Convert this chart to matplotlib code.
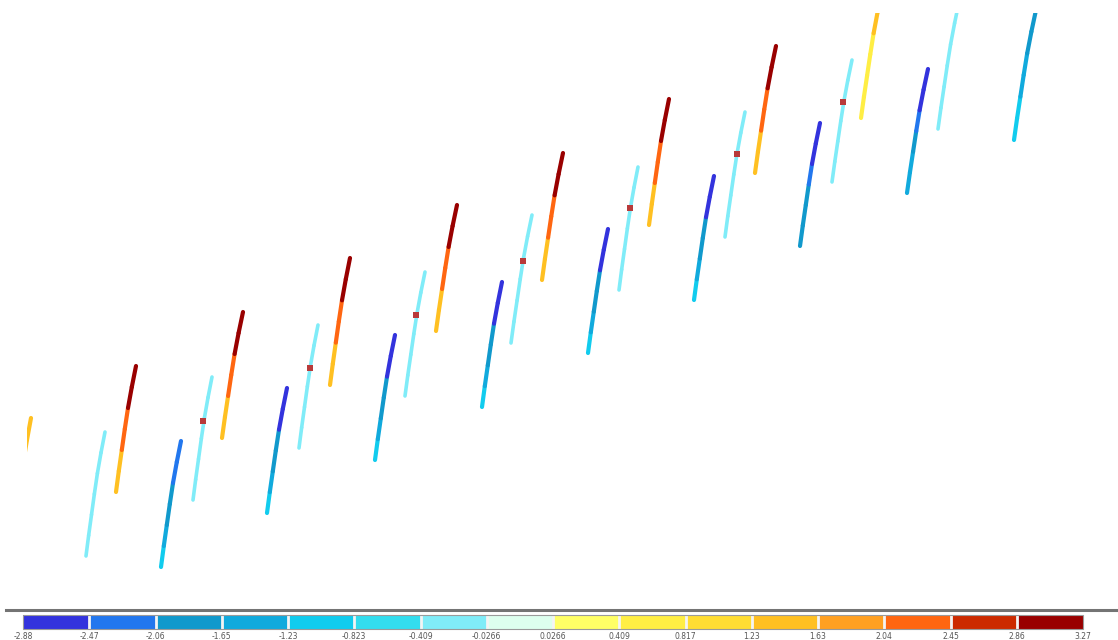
import numpy as np
import matplotlib
matplotlib.use("Agg")
from matplotlib import pyplot as plt
from matplotlib.collections import LineCollection
from matplotlib.colors import ListedColormap, BoundaryNorm
from matplotlib.cm import ScalarMappable
from matplotlib.lines import Line2D


# =========================
# Value scale (class edges + colours)
# =========================

levels = [-2.88, -2.47, -2.06, -1.65, -1.23, -0.823, -0.409, -0.0266,
          0.0266, 0.409, 0.817, 1.23, 1.63, 2.04, 2.45, 2.86, 3.27]
level_labels = ["-2.88", "-2.47", "-2.06", "-1.65", "-1.23", "-0.823", "-0.409",
                "-0.0266", "0.0266", "0.409", "0.817", "1.23", "1.63", "2.04",
                "2.45", "2.86", "3.27"]
level_colors = ["#3333dd", "#2277ee", "#1199cc", "#11aadd", "#11ccee", "#33ddee",
                "#80ecf8", "#ddffee", "#ffff66", "#ffee44", "#ffdd33", "#ffc022",
                "#ffa022", "#ff6611", "#cc2a00", "#990000"]

# bend of a trace: fraction of its height vs fraction of its sideways offset
shape_h = [0, 1 / 6, 2 / 6, 3 / 6, 4 / 6, 5 / 6, 1]
shape_w = [0, 0.14, 0.29, 0.44, 0.60, 0.79, 1]

# =========================
# Traces: bottom (x0, d0), top (x1, d1), value on each of 6 sections
# =========================

# warm traces
hot_x0 = [12, 116, 222, 330, 436, 542, 649, 755, 861]
hot_d0 = [548, 492, 438, 385, 331, 280, 225, 173, 118]
hot_x1 = [31, 136, 243, 350, 457, 563, 669, 776, 882]
hot_d1 = [418, 366, 312, 258, 205, 153, 99, 46, -9]
hot_vals = [
    [1.4, 1.4, 1.4, 1.4, 1.4, 1.4],
    [1.4, 1.4, 2.3, 2.3, 3.0, 3.0],
    [1.4, 1.4, 2.3, 2.3, 3.0, 3.0],
    [1.4, 1.4, 2.3, 2.3, 3.0, 3.0],
    [1.4, 1.4, 2.3, 2.3, 3.0, 3.0],
    [1.4, 1.4, 2.3, 2.3, 3.0, 3.0],
    [1.4, 1.4, 2.3, 2.3, 3.0, 3.0],
    [1.4, 1.4, 2.3, 2.3, 3.0, 3.0],
    [0.6, 0.6, 0.6, 0.6, 1.4, 1.4],
]

# near-zero traces
mid_x0 = [86, 193, 299, 405, 511, 619, 725, 832, 938]
mid_d0 = [556, 500, 448, 396, 343, 290, 237, 182, 129]
mid_x1 = [105, 212, 318, 425, 532, 638, 745, 852, 959]
mid_d1 = [432, 377, 325, 272, 215, 167, 112, 60, 2]
mid_vals = [[-0.2] * 6 for _ in mid_x0]

# cold traces
cold_x0 = [161, 267, 375, 482, 588, 694, 800, 907, 1014]
cold_d0 = [567, 513, 460, 407, 353, 300, 246, 193, 140]
cold_x1 = [181, 287, 395, 502, 608, 714, 820, 928, 1036]
cold_d1 = [441, 388, 335, 282, 229, 176, 123, 69, 10]
cold_vals = [
    [-1.0, -1.4, -1.85, -1.85, -2.3, -2.3],
    [-1.0, -1.4, -1.85, -1.85, -2.7, -2.7],
    [-1.0, -1.4, -1.85, -1.85, -2.7, -2.7],
    [-1.0, -1.4, -1.85, -1.85, -2.7, -2.7],
    [-1.0, -1.4, -1.85, -1.85, -2.7, -2.7],
    [-1.0, -1.4, -1.85, -1.85, -2.7, -2.7],
    [-1.85, -1.85, -1.85, -2.3, -2.7, -2.7],
    [-1.4, -1.4, -1.85, -2.3, -2.7, -2.7],
    [-1.0, -1.0, -1.4, -1.4, -1.85, -1.85],
]

# picks on the near-zero traces
pick_x = [203, 310, 416, 523, 630, 737, 843]
pick_d = [421, 368, 315, 261, 208, 154, 102]


cmap = ListedColormap(level_colors)
norm = BoundaryNorm(levels, cmap.N)

fig = plt.figure(figsize=(11.18, 6.4), dpi=100)
ax = fig.add_axes([27 / 1118, 40 / 640, 1 - 27 / 1118, 587 / 640])
ax.set_xlim(27, 1118)
ax.set_ylim(600, 13)
ax.axis("off")


def add_traces(x0, d0, x1, d1, vals, width):
    segs = []
    seg_vals = []
    for i in range(len(x0)):
        xs = [x0[i] + w * (x1[i] - x0[i]) for w in shape_w]
        ds = [d0[i] + h * (d1[i] - d0[i]) for h in shape_h]
        for k in range(len(xs) - 1):
            segs.append([(xs[k], ds[k]), (xs[k + 1], ds[k + 1])])
            seg_vals.append(vals[i][k])
    lc = LineCollection(segs, cmap=cmap, norm=norm, linewidths=width,
                        capstyle="round", joinstyle="round")
    lc.set_array(np.array(seg_vals))
    ax.add_collection(lc)


add_traces(hot_x0, hot_d0, hot_x1, hot_d1, hot_vals, 3.0)
add_traces(mid_x0, mid_d0, mid_x1, mid_d1, mid_vals, 2.6)
add_traces(cold_x0, cold_d0, cold_x1, cold_d1, cold_vals, 3.0)

ax.plot(pick_x, pick_d, linestyle="none", marker="s", markersize=4.2,
        color="#b83a3a", markeredgewidth=0)

# separator above the scale bar
fig.add_artist(Line2D([6 / 1118, 1], [30.5 / 640, 30.5 / 640],
                      transform=fig.transFigure, color="#747474", linewidth=2.2))

# scale bar
cax = fig.add_axes([23 / 1118, 11 / 640, 1060 / 1118, 14 / 640])
cb = fig.colorbar(ScalarMappable(norm=norm, cmap=cmap), cax=cax,
                  orientation="horizontal", ticks=levels, drawedges=True,
                  spacing="uniform")
cb.set_ticklabels(level_labels)
cb.ax.tick_params(length=0, pad=2.0, labelsize=5.5, labelcolor="#555555")
cb.outline.set_edgecolor("#9a9a9a")
cb.outline.set_linewidth(0.8)
cb.dividers.set_color("#f4f4f4")
cb.dividers.set_linewidth(2)

fig.savefig("out.png", dpi=100)
